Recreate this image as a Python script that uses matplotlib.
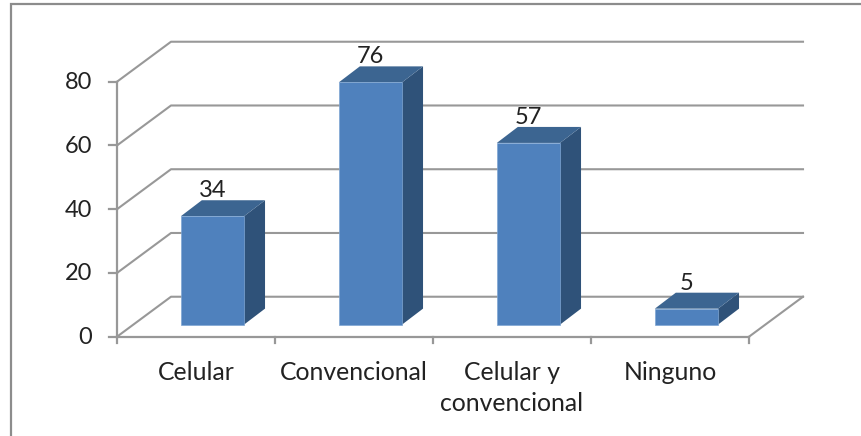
import matplotlib
matplotlib.use("Agg")
import matplotlib.pyplot as plt
from matplotlib.patches import Polygon, Rectangle

categories = ["Celular", "Convencional", "Celular y\nconvencional", "Ninguno"]
values = [34, 76, 57, 5]
y_ticks = [0, 20, 40, 60, 80]

C_FRONT = "#4F81BD"
C_TOP = "#3C6591"
C_SIDE = "#2F5279"
C_GRID = "#989898"
C_TEXT = "#222222"

W, H = 862, 436

# depth of the floor, in data units (x = categories, y = values)
BACK_X = 54 / 158
BACK_Y = 40 / 3.19
BAR_W = 0.40
BAR_OFF_X = 0.104
BAR_OFF_Y = 12.1 / 3.19
DEPTH_X = 21 / 158
DEPTH_Y = 16 / 3.19

plt.rcParams["font.family"] = ["Lato", "DejaVu Sans"]

fig = plt.figure(figsize=(W / 100, H / 100), dpi=100, facecolor="white")
ax = fig.add_axes([117 / W, 1 - 336.7 / H, 632 / W, 255 / H])
ax.set_xlim(0, 4)
ax.set_ylim(0, 80)
ax.axis("off")

# outer chart border
fig.add_artist(Rectangle((11.5 / W, -0.05), 855 / W, 1.04 - 4.5 / H + 0.01,
                         transform=fig.transFigure, fill=False,
                         edgecolor="#8C8C8C", linewidth=1.6))

# back wall gridlines and the slanted side lines
for t in y_ticks:
    ax.plot([0, BACK_X, 4 + BACK_X], [t, t + BACK_Y, t + BACK_Y],
            color=C_GRID, lw=1.5, clip_on=False, zorder=1)
ax.plot([4, 4 + BACK_X], [0, BACK_Y], color=C_GRID, lw=1.5, clip_on=False, zorder=1)

# axes and ticks
ax.plot([0, 0], [0, 80], color=C_GRID, lw=1.6, clip_on=False, zorder=2)
ax.plot([0, 4], [0, 0], color=C_GRID, lw=1.6, clip_on=False, zorder=2)
for t in y_ticks:
    ax.plot([-8 / 158, 0], [t, t], color=C_GRID, lw=1.6, clip_on=False, zorder=2)
    ax.annotate(str(t), (0, t), xytext=(-25, -1), textcoords="offset pixels",
                ha="right", va="center", fontsize=17, color=C_TEXT,
                annotation_clip=False)
for i in range(5):
    ax.plot([i, i], [0, -6 / 3.19], color=C_GRID, lw=1.6, clip_on=False, zorder=2)

# bars
for i, v in enumerate(values):
    x0 = i + 0.5 - BAR_W / 2 + BAR_OFF_X
    x1 = x0 + BAR_W
    y0 = BAR_OFF_Y
    y1 = y0 + v
    ax.add_patch(Polygon([(x1, y0), (x1 + DEPTH_X, y0 + DEPTH_Y),
                          (x1 + DEPTH_X, y1 + DEPTH_Y), (x1, y1)],
                         facecolor=C_SIDE, edgecolor="none", clip_on=False, zorder=3))
    ax.add_patch(Polygon([(x0, y1), (x0 + DEPTH_X, y1 + DEPTH_Y),
                          (x1 + DEPTH_X, y1 + DEPTH_Y), (x1, y1)],
                         facecolor=C_TOP, edgecolor="none", clip_on=False, zorder=3))
    ax.add_patch(Rectangle((x0, y0), BAR_W, v, facecolor=C_FRONT,
                           edgecolor="#7FA6D3", linewidth=0.5, clip_on=False, zorder=4))
    ax.annotate(str(v), ((x0 + x1) / 2, y1 + DEPTH_Y),
                xytext=(0, 3), textcoords="offset pixels", ha="center",
                va="baseline", fontsize=17, color=C_TEXT, zorder=5,
                annotation_clip=False)

# category labels
for i, c in enumerate(categories):
    ax.annotate(c, (i + 0.5, 0), xytext=(0, -24), textcoords="offset pixels",
                ha="center", va="top", fontsize=17.8, color=C_TEXT,
                linespacing=1.42, annotation_clip=False)

fig.savefig("out.png", dpi=100, facecolor="white")
